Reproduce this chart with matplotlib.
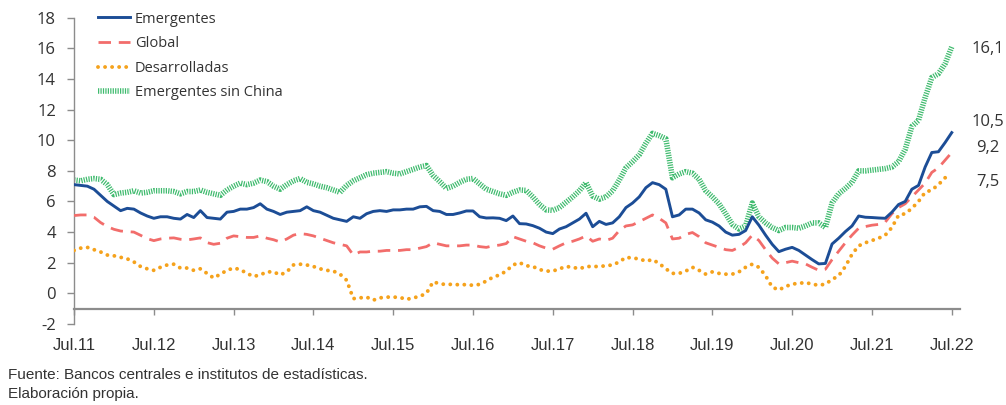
import numpy as np
import matplotlib
matplotlib.use("Agg")
import matplotlib.pyplot as plt

# Datos mensuales jul.2011 - jul.2022
emergentes = [
    7.1, 7.05, 7.0, 6.8, 6.4, 6.0, 5.7, 5.4, 5.55, 5.5, 5.25, 5.05,
    4.9, 5.0, 5.0, 4.9, 4.85, 5.15, 4.95, 5.4, 4.95, 4.9, 4.85, 5.3,
    5.35, 5.5, 5.5, 5.6, 5.85, 5.5, 5.35, 5.15, 5.3, 5.35, 5.4, 5.65,
    5.4, 5.3, 5.1, 4.9, 4.8, 4.7, 5.0, 4.9, 5.2, 5.35, 5.4, 5.35,
    5.45, 5.45, 5.5, 5.5, 5.65, 5.68, 5.4, 5.35, 5.15, 5.15, 5.25, 5.38,
    5.38, 5.0, 4.92, 4.93, 4.9, 4.75, 5.05, 4.55, 4.53, 4.42, 4.25, 4.0,
    3.9, 4.2, 4.35, 4.6, 4.85, 5.23, 4.35, 4.7, 4.5, 4.6, 5.0, 5.6,
    5.9, 6.3, 6.9, 7.23, 7.1, 6.8, 5.0, 5.12, 5.5, 5.5, 5.25, 4.8,
    4.65, 4.4, 4.0, 3.8, 3.85, 4.1, 5.0, 4.45, 3.8, 3.2, 2.72, 2.88,
    3.0, 2.8, 2.5, 2.2, 1.92, 1.95, 3.22, 3.6, 4.03, 4.4, 5.05, 4.97,
    4.95, 4.92, 4.9, 5.3, 5.8, 6.0, 6.8, 7.05, 8.25, 9.2, 9.25, 9.85, 10.5]

global_ = [
    5.08, 5.12, 5.12, 4.97, 4.62, 4.36, 4.18, 4.07, 4.03, 4.0, 3.79, 3.57,
    3.44, 3.55, 3.6, 3.62, 3.53, 3.49, 3.55, 3.62, 3.31, 3.2, 3.27, 3.6,
    3.75, 3.7, 3.65, 3.65, 3.75, 3.6, 3.5, 3.35, 3.55, 3.8, 3.9, 3.85,
    3.75, 3.6, 3.45, 3.3, 3.2, 3.1, 2.5, 2.7, 2.7, 2.75, 2.75, 2.8,
    2.8, 2.8, 2.85, 2.85, 2.95, 3.05, 3.3, 3.2, 3.1, 3.1, 3.1, 3.15,
    3.15, 3.05, 3.0, 3.1, 3.15, 3.25, 3.7, 3.55, 3.4, 3.3, 3.1, 2.95,
    2.88, 3.1, 3.3, 3.4, 3.55, 3.75, 3.4, 3.55, 3.45, 3.6, 4.1, 4.4,
    4.47, 4.68, 4.9, 5.12, 4.9, 4.6, 3.55, 3.6, 3.85, 3.97, 3.7, 3.3,
    3.15, 3.0, 2.85, 2.8, 3.0, 3.3, 3.8, 3.45, 2.85, 2.3, 1.92, 2.0,
    2.1, 2.0, 1.92, 1.7, 1.5, 1.57, 2.2, 2.75, 3.3, 3.8, 4.25, 4.36,
    4.45, 4.5, 4.65, 5.2, 5.6, 5.85, 6.3, 6.75, 7.2, 7.9, 8.2, 8.7, 9.2]

desarrolladas = [
    2.8, 2.95, 3.0, 2.85, 2.7, 2.5, 2.45, 2.35, 2.25, 2.05, 1.75, 1.6,
    1.5, 1.7, 1.85, 1.9, 1.65, 1.65, 1.5, 1.6, 1.3, 1.0, 1.25, 1.5,
    1.65, 1.55, 1.3, 1.1, 1.2, 1.4, 1.4, 1.2, 1.4, 1.85, 1.9, 1.85,
    1.75, 1.6, 1.5, 1.45, 1.25, 0.85, -0.35, -0.3, -0.25, -0.45, -0.3, -0.25,
    -0.25, -0.27, -0.4, -0.3, -0.2, 0.0, 0.75, 0.62, 0.57, 0.59, 0.55, 0.57,
    0.52, 0.58, 0.8, 1.05, 1.2, 1.45, 1.85, 2.0, 1.8, 1.75, 1.55, 1.45,
    1.45, 1.6, 1.75, 1.7, 1.6, 1.75, 1.75, 1.75, 1.8, 1.85, 2.05, 2.35,
    2.3, 2.25, 2.1, 2.2, 1.95, 1.6, 1.3, 1.3, 1.45, 1.7, 1.5, 1.25,
    1.4, 1.3, 1.25, 1.25, 1.4, 1.7, 1.9, 1.7, 1.15, 0.4, 0.22, 0.44,
    0.6, 0.65, 0.7, 0.6, 0.52, 0.6, 0.9, 1.15, 1.75, 2.55, 3.1, 3.3,
    3.45, 3.6, 3.8, 4.3, 5.1, 5.2, 5.55, 6.0, 6.6, 6.75, 7.1, 7.55, 7.45]

emergentes_sin_china = [
    7.4, 7.35, 7.45, 7.5, 7.45, 7.1, 6.45, 6.55, 6.6, 6.7, 6.55, 6.6,
    6.7, 6.7, 6.7, 6.65, 6.5, 6.65, 6.65, 6.75, 6.6, 6.5, 6.4, 6.75,
    7.0, 7.2, 7.1, 7.2, 7.4, 7.3, 7.0, 6.8, 7.1, 7.35, 7.5, 7.25,
    7.15, 7.0, 6.9, 6.75, 6.6, 7.05, 7.35, 7.55, 7.75, 7.85, 7.9, 7.95,
    7.85, 7.8, 7.95, 8.1, 8.25, 8.35, 7.7, 7.3, 6.85, 7.0, 7.25, 7.45,
    7.5, 7.15, 6.8, 6.65, 6.5, 6.4, 6.6, 6.75, 6.72, 6.3, 5.8, 5.45,
    5.42, 5.6, 5.95, 6.3, 6.7, 7.23, 6.35, 6.15, 6.3, 6.7, 7.4, 8.2,
    8.6, 9.05, 9.8, 10.45, 10.3, 10.1, 7.55, 7.8, 7.95, 7.85, 7.45, 6.7,
    6.3, 5.85, 5.2, 4.5, 4.2, 4.4, 5.9, 5.0, 4.6, 4.3, 4.1, 4.3,
    4.3, 4.25, 4.4, 4.6, 4.6, 4.3, 5.9, 6.5, 6.85, 7.25, 8.0, 8.0,
    8.05, 8.1, 8.15, 8.25, 8.6, 9.4, 10.9, 11.3, 12.8, 14.1, 14.35, 15.0, 16.1]

etiquetas_x = ["Jul.11", "Jul.12", "Jul.13", "Jul.14", "Jul.15", "Jul.16",
               "Jul.17", "Jul.18", "Jul.19", "Jul.20", "Jul.21", "Jul.22"]
etiquetas_fin = ["10,5", "9,2", "7,5", "16,1"]

meses = np.arange(len(emergentes))

fig = plt.figure(figsize=(10.06, 4.05), dpi=100)
ax = fig.add_axes([0.0736, 0.2003, 0.954 - 0.0736, 0.7556])

azul = "#1c4d96"
rojo = "#f26d6b"
naranja = "#f5a21c"
verde = "#3fbb6e"

ax.plot(meses, emergentes_sin_china, color=verde, lw=4.0,
        linestyle=(0, (0.22, 0.22)), label="Emergentes sin China", zorder=2)
ax.plot(meses, desarrolladas, color=naranja, lw=2.8, linestyle=(0, (0.01, 1.8)),
        dash_capstyle="round", label="Desarrolladas", zorder=3)
ax.plot(meses, global_, color=rojo, lw=2.0, linestyle=(0, (4.5, 2.8)),
        label="Global", zorder=4)
ax.plot(meses, emergentes, color=azul, lw=2.1, label="Emergentes", zorder=5)

ax.set_xlim(0, 133.2)
ax.set_ylim(-2, 18)
ax.set_yticks(np.arange(-2, 19, 2))
ax.set_yticklabels([str(v) for v in range(-2, 19, 2)])
ax.set_xticks(np.arange(0, 133, 12))
ax.set_xticklabels(etiquetas_x)

gris = "#8c8c8c"
for s in ["top", "right"]:
    ax.spines[s].set_visible(False)
ax.spines["left"].set_color(gris)
ax.spines["bottom"].set_color(gris)
ax.spines["bottom"].set_position(("data", -1))
ax.spines["left"].set_linewidth(1.0)
ax.spines["bottom"].set_linewidth(1.6)
ax.tick_params(axis="y", direction="out", length=5, color=gris, width=1,
               labelsize=12, labelcolor="#333333", pad=8)
ax.tick_params(axis="x", direction="out", length=4, color=gris, width=1,
               labelsize=12, labelcolor="#333333", pad=17)
for t in ax.get_yticklabels():
    t.set_family(["Open Sans", "DejaVu Sans"])
for t in ax.get_xticklabels():
    t.set_family(["Liberation Sans", "DejaVu Sans"])

# etiquetas de los últimos valores
finales = [emergentes[-1], global_[-1], desarrolladas[-1], emergentes_sin_china[-1]]
desplaz = [11, 5, -3, -2]
for txt, v, dy in zip(etiquetas_fin, finales, desplaz):
    ax.annotate(txt, xy=(meses[-1], v), xytext=(36, dy), textcoords="offset pixels",
                ha="center", va="center", fontsize=12, color="#333333",
                family=["Open Sans", "DejaVu Sans"], annotation_clip=False)

handles, labels = ax.get_legend_handles_labels()
orden = [3, 2, 1, 0]
ax.legend([handles[i] for i in orden], [labels[i] for i in orden],
          loc="upper left", bbox_to_anchor=(0.092, 0.986), bbox_transform=fig.transFigure,
          frameon=False, handlelength=2.2, handletextpad=0.3, labelspacing=0.66,
          borderaxespad=0, prop={"family": "Open Sans", "size": 10.5},
          labelcolor="#333333")

fig.text(0.008, 0.075, "Fuente: Bancos centrales e institutos de estadísticas.",
         fontsize=11, color="#333333", family=["Liberation Sans", "DejaVu Sans"],
         va="center")
fig.text(0.008, 0.028, "Elaboración propia.",
         fontsize=11, color="#333333", family=["Liberation Sans", "DejaVu Sans"],
         va="center")

fig.savefig("out.png", dpi=100)
